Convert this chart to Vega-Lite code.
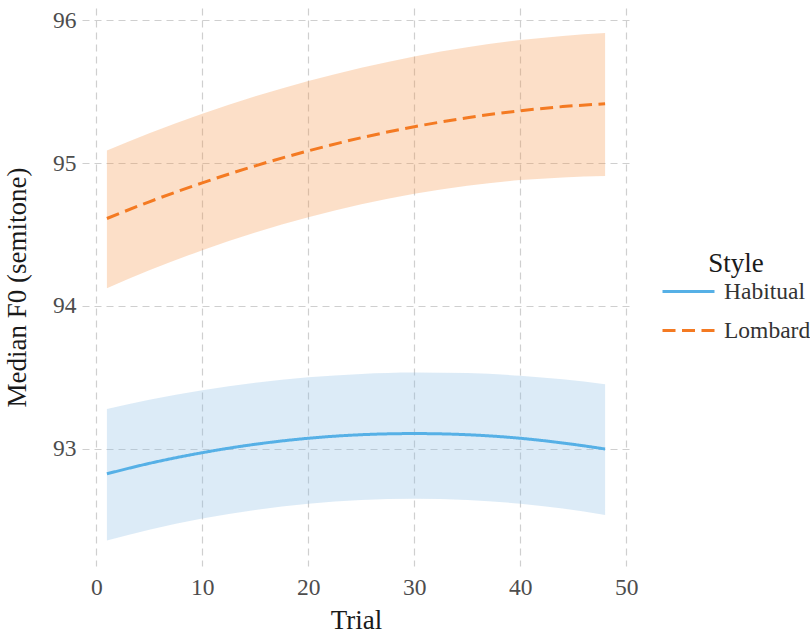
{
  "$schema": "https://vega.github.io/schema/vega-lite/v6.json",
  "width": 548,
  "height": 558,
  "autosize": {"type": "none"},
  "padding": {"left": 82, "top": 8, "right": 180, "bottom": 70},
  "background": "white",
  "config": {
    "view": {"stroke": null},
    "font": "Liberation Serif",
    "style": {
      "guide-label": {"font": "Liberation Serif"},
      "guide-title": {"font": "Liberation Serif"}
    },
    "axis": {
      "domain": false,
      "ticks": false,
      "grid": true,
      "gridColor": "#cfcfcf",
      "gridWidth": 1.2,
      "gridDash": [7, 5],
      "labelFont": "Liberation Serif",
      "labelFontSize": 23.5,
      "labelColor": "#4d4d4d",
      "titleFont": "Liberation Serif",
      "titleFontSize": 27,
      "titleFontWeight": "normal",
      "titleColor": "#1a1a1a"
    },
    "legend": {
      "labelFont": "Liberation Serif",
      "titleFont": "Liberation Serif"
    }
  },
  "data": {
    "values": [
      {"style": "Habitual", "trial": 1, "fit": 92.823, "lower": 92.355, "upper": 93.278},
      {"style": "Habitual", "trial": 5, "fit": 92.896, "lower": 92.431, "upper": 93.342},
      {"style": "Habitual", "trial": 10, "fit": 92.971, "lower": 92.509, "upper": 93.408},
      {"style": "Habitual", "trial": 15, "fit": 93.030, "lower": 92.570, "upper": 93.461},
      {"style": "Habitual", "trial": 20, "fit": 93.072, "lower": 92.613, "upper": 93.499},
      {"style": "Habitual", "trial": 25, "fit": 93.097, "lower": 92.639, "upper": 93.523},
      {"style": "Habitual", "trial": 30, "fit": 93.105, "lower": 92.648, "upper": 93.533},
      {"style": "Habitual", "trial": 35, "fit": 93.097, "lower": 92.639, "upper": 93.529},
      {"style": "Habitual", "trial": 40, "fit": 93.072, "lower": 92.613, "upper": 93.510},
      {"style": "Habitual", "trial": 44, "fit": 93.039, "lower": 92.580, "upper": 93.485},
      {"style": "Habitual", "trial": 48, "fit": 92.997, "lower": 92.535, "upper": 93.451},
      {"style": "Lombard", "trial": 1, "fit": 94.612, "lower": 94.124, "upper": 95.089},
      {"style": "Lombard", "trial": 5, "fit": 94.729, "lower": 94.249, "upper": 95.209},
      {"style": "Lombard", "trial": 10, "fit": 94.862, "lower": 94.390, "upper": 95.346},
      {"style": "Lombard", "trial": 15, "fit": 94.981, "lower": 94.514, "upper": 95.468},
      {"style": "Lombard", "trial": 20, "fit": 95.086, "lower": 94.621, "upper": 95.576},
      {"style": "Lombard", "trial": 25, "fit": 95.178, "lower": 94.712, "upper": 95.669},
      {"style": "Lombard", "trial": 30, "fit": 95.255, "lower": 94.785, "upper": 95.748},
      {"style": "Lombard", "trial": 35, "fit": 95.318, "lower": 94.841, "upper": 95.812},
      {"style": "Lombard", "trial": 40, "fit": 95.367, "lower": 94.881, "upper": 95.862},
      {"style": "Lombard", "trial": 44, "fit": 95.396, "lower": 94.900, "upper": 95.891},
      {"style": "Lombard", "trial": 48, "fit": 95.416, "lower": 94.909, "upper": 95.911}
    ]
  },
  "encoding": {
    "x": {
      "field": "trial",
      "type": "quantitative",
      "title": "Trial",
      "scale": {"domain": [-1.35, 50.35], "nice": false, "zero": false},
      "axis": {"values": [0, 10, 20, 30, 40, 50], "format": "d", "labelPadding": 9, "titlePadding": 9}
    }
  },
  "resolve": {"legend": {"fill": "independent"}},
  "layer": [
    {
      "mark": {"type": "area", "fillOpacity": 0.3, "interpolate": "monotone"},
      "encoding": {
        "y": {
          "field": "lower",
          "type": "quantitative",
          "title": "Median F0 (semitone)",
          "scale": {"domain": [92.177, 96.087], "nice": false, "zero": false},
          "axis": {"values": [93, 94, 95, 96], "format": "d", "labelPadding": 6, "titlePadding": 21}
        },
        "y2": {"field": "upper"},
        "fill": {
          "field": "style",
          "type": "nominal",
          "scale": {"domain": ["Habitual", "Lombard"], "range": ["#8ABCE4", "#F59448"]},
          "legend": null
        }
      }
    },
    {
      "mark": {"type": "line", "strokeWidth": 3, "interpolate": "monotone"},
      "encoding": {
        "y": {"field": "fit", "type": "quantitative"},
        "stroke": {
          "field": "style",
          "type": "nominal",
          "title": "Style",
          "scale": {"domain": ["Habitual", "Lombard"], "range": ["#56B0E6", "#F47A22"]},
          "legend": {
            "orient": "none",
            "legendX": 579,
            "legendY": 243,
            "symbolType": "stroke",
            "symbolSize": 2704,
            "symbolStrokeWidth": 3,
            "labelFont": "Liberation Serif",
            "labelFontSize": 23.5,
            "labelColor": "#333333",
            "labelOffset": 8,
            "titleFont": "Liberation Serif",
            "titleFontSize": 27,
            "titleFontWeight": "normal",
            "titleColor": "#1a1a1a",
            "titleAnchor": "middle",
            "titlePadding": -14,
            "rowPadding": -1
          }
        },
        "strokeDash": {
          "field": "style",
          "type": "nominal",
          "title": "Style",
          "scale": {"domain": ["Habitual", "Lombard"], "range": [[1, 0], [13, 6.5]]},
          "legend": {
            "orient": "none",
            "legendX": 579,
            "legendY": 243,
            "symbolType": "stroke",
            "symbolSize": 2704,
            "symbolStrokeWidth": 3,
            "labelFont": "Liberation Serif",
            "labelFontSize": 23.5,
            "labelColor": "#333333",
            "labelOffset": 8,
            "titleFont": "Liberation Serif",
            "titleFontSize": 27,
            "titleFontWeight": "normal",
            "titleColor": "#1a1a1a",
            "titleAnchor": "middle",
            "titlePadding": -14,
            "rowPadding": -1
          }
        }
      }
    }
  ]
}
